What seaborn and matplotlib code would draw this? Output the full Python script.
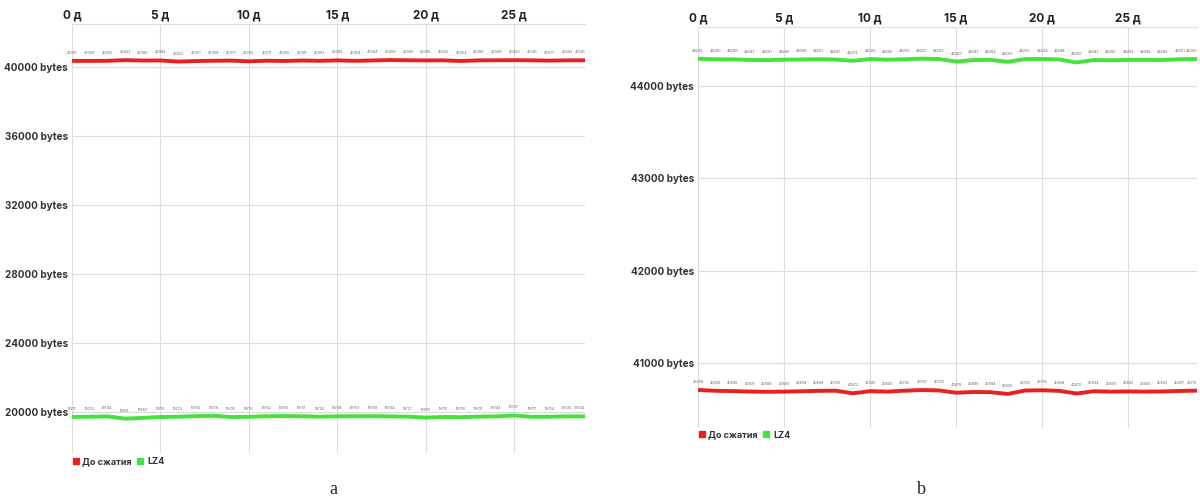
import matplotlib
matplotlib.use("Agg")
import matplotlib.pyplot as plt
from matplotlib.lines import Line2D
import seaborn as sns
import pandas as pd

# days on the top axis
days = list(range(30))
xticks = [0, 5, 10, 15, 20, 25]

# panel a: size before compression / after LZ4
raw_a = [40361, 40359, 40365, 40402, 40380, 40384, 40322, 40351, 40368, 40377,
         40336, 40371, 40355, 40381, 40363, 40389, 40364, 40384, 40409, 40395,
         40386, 40392, 40354, 40389, 40396, 40400, 40391, 40377, 40392, 40391]
lz4_a = [19711, 19722, 19744, 19614, 19657, 19710, 19723, 19756, 19778, 19705,
         19719, 19752, 19766, 19751, 19726, 19748, 19753, 19758, 19744, 19727,
         19675, 19710, 19700, 19731, 19744, 19797, 19717, 19724, 19745, 19744]
yticks_a = [20000, 24000, 28000, 32000, 36000, 40000]

# panel b
raw_b = [40708, 40699, 40696, 40691, 40688, 40690, 40694, 40698, 40700, 40672,
         40695, 40690, 40700, 40707, 40703, 40678, 40686, 40684, 40665, 40702,
         40705, 40698, 40670, 40694, 40690, 40692, 40690, 40692, 40697, 40701]
lz4_b = [44296, 44290, 44289, 44283, 44281, 44286, 44288, 44291, 44287, 44274,
         44293, 44285, 44290, 44297, 44293, 44266, 44282, 44284, 44263, 44292,
         44294, 44288, 44256, 44282, 44280, 44283, 44284, 44282, 44291, 44293]
yticks_b = [41000, 42000, 43000, 44000]

series_names = ["До сжатия", "LZ4"]
RED = "#e8201e"
GREEN = "#46e23c"

sns.set_style("white")
plt.rcParams['font.family'] = ['Inter', 'DejaVu Sans']

W, H = 1200, 504
fig = plt.figure(figsize=(W / 100, H / 100), dpi=100)


def panel(rect_px, raw, lz4, yticks, ylim, legend_px, caption, caption_x):
    l, t, r, b = rect_px
    ax = fig.add_axes([l / W, 1 - b / H, (r - l) / W, (b - t) / H])
    df = pd.DataFrame({"day": days * 2,
                       "bytes": raw + lz4,
                       "kind": [series_names[0]] * len(days) + [series_names[1]] * len(days)})
    sns.lineplot(data=df, x="day", y="bytes", hue="kind",
                 palette={series_names[0]: RED, series_names[1]: GREEN},
                 linewidth=2.8, legend=False, ax=ax, zorder=3)
    # value labels above every point
    px_per_unit = (b - t) / (ylim[1] - ylim[0])
    off = 8 / px_per_unit
    for vals in (raw, lz4):
        for d, v in zip(days, vals):
            ha = "right" if d == days[-1] else "center"
            ax.text(d, v + off, str(v), fontsize=2.6, color="#666666",
                    ha=ha, va="center", zorder=4)
    ax.set_xlim(0, 29)
    ax.set_ylim(*ylim)
    ax.xaxis.tick_top()
    ax.set_xticks(xticks)
    ax.set_xticklabels([f"{d} д" for d in xticks], fontsize=8.5,
                       fontweight="bold", color="#222222")
    ax.set_yticks(yticks)
    ax.set_yticklabels([f"{v} bytes" for v in yticks], fontsize=7.2,
                       fontweight="bold", color="#333333")
    ax.tick_params(length=0, pad=3)
    ax.tick_params(axis="x", pad=2)
    ax.set_xlabel("")
    ax.set_ylabel("")
    ax.grid(True, color="#dcdcdc", linewidth=0.8)
    for s in ["left", "right", "bottom"]:
        ax.spines[s].set_visible(False)
    ax.spines["top"].set_color("#dcdcdc")
    ax.spines["top"].set_linewidth(0.8)
    handles = [Line2D([], [], marker="s", color=c, linestyle="", markersize=4.5)
               for c in (RED, GREEN)]
    fig.legend(handles, series_names, loc="center left",
               bbox_to_anchor=(legend_px[0] / W, 1 - legend_px[1] / H),
               ncol=2, frameon=False, handletextpad=0.35, columnspacing=0.5,
               handlelength=0.8, prop={"size": 6.5, "weight": "bold"},
               labelcolor="#333333", borderaxespad=0, borderpad=0)
    fig.text(caption_x / W, 1 - 490 / H, caption, fontsize=13,
             family="Liberation Serif", ha="center", va="center")
    return ax


panel((72, 24, 585, 453), raw_a, lz4_a, yticks_a, (17620, 42500), (72, 462), "a", 333)
panel((698, 27, 1197, 428), raw_b, lz4_b, yticks_b, (40296, 44640), (698, 435), "b", 921)

fig.savefig("out.png", dpi=100)
